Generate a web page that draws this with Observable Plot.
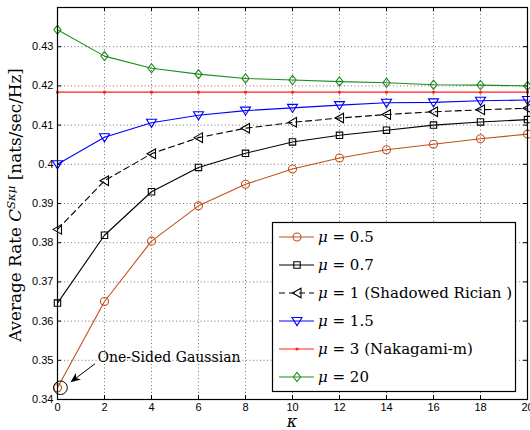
<!DOCTYPE html>
<html>
<head>
<meta charset="utf-8">
<script src="https://cdn.jsdelivr.net/npm/d3@7"></script>
<script src="https://cdn.jsdelivr.net/npm/@observablehq/plot@0.6"></script>
<style>
  html, body { margin: 0; padding: 0; background: #fff; overflow: hidden; }
  #chart { position: relative; width: 530px; height: 430px; }
</style>
</head>
<body>
<div id="chart"></div>
<script>
// ---------- data ----------
const kappa = [0, 2, 4, 6, 8, 10, 12, 14, 16, 18, 20];
const mu05 = [0.3430, 0.3650, 0.3804, 0.3894, 0.3949, 0.3988, 0.4016, 0.4037, 0.4051, 0.4065, 0.4077];
const mu07 = [0.3646, 0.3819, 0.3930, 0.3992, 0.4028, 0.4057, 0.4074, 0.4087, 0.4100, 0.4108, 0.4114];
const mu1  = [0.3834, 0.3958, 0.4027, 0.4068, 0.4092, 0.4107, 0.4118, 0.4127, 0.4134, 0.4139, 0.4143];
const mu15 = [0.4000, 0.4069, 0.4106, 0.4125, 0.4137, 0.4144, 0.4151, 0.4157, 0.4158, 0.4162, 0.4164];
const mu3  = [0.4184, 0.4184, 0.4184, 0.4184, 0.4184, 0.4184, 0.4184, 0.4184, 0.4184, 0.4184, 0.4184];
const mu20 = [0.4343, 0.4276, 0.4245, 0.4230, 0.4219, 0.4215, 0.4211, 0.4208, 0.4203, 0.4202, 0.4200];

const muValues = ["0.5", "0.7", "1", "1.5", "3", "20"];
const muNotes = ["", "", " (Shadowed Rician )", "", " (Nakagami-m)", ""];

const xTicks = [0, 2, 4, 6, 8, 10, 12, 14, 16, 18, 20];
const yTicks = [0.34, 0.35, 0.36, 0.37, 0.38, 0.39, 0.40, 0.41, 0.42, 0.43];
const yTickLabels = ["0.34", "0.35", "0.36", "0.37", "0.38", "0.39", "0.4", "0.41", "0.42", "0.43"];

const annotation = [{k: 0, v: 0.343, text: "One-Sided Gaussian"}];

// ---------- styles ----------
const sym = (f) => ({draw(ctx, size) { f(ctx, Math.sqrt(size / Math.PI) / 4); }});
const symCircle = sym((c, s) => { c.moveTo(4 * s, 0); c.arc(0, 0, 4 * s, 0, 2 * Math.PI); });
const symSquare = sym((c, s) => { c.rect(-3.2 * s, -3.2 * s, 6.4 * s, 6.4 * s); });
const symTriLeft = sym((c, s) => { c.moveTo(-4.5 * s, 0); c.lineTo(4 * s, -4.8 * s); c.lineTo(4 * s, 4.8 * s); c.closePath(); });
const symTriDown = sym((c, s) => { c.moveTo(-5 * s, -3.5 * s); c.lineTo(5 * s, -3.5 * s); c.lineTo(0, 4.6 * s); c.closePath(); });
const symDot = sym((c, s) => { c.moveTo(1 * s, 0); c.arc(0, 0, 1 * s, 0, 2 * Math.PI); });
const symDiamond = sym((c, s) => { c.moveTo(0, -4.6 * s); c.lineTo(3.6 * s, 0); c.lineTo(0, 4.6 * s); c.lineTo(-3.6 * s, 0); c.closePath(); });

const seriesValues = [mu05, mu07, mu1, mu15, mu3, mu20];
const seriesColors = ["#c0501c", "#000000", "#000000", "#0000ff", "#ff2020", "#1e8c1e"];
const seriesSymbols = [symCircle, symSquare, symTriLeft, symTriDown, symDot, symDiamond];
const seriesDash = [null, null, "6,4", null, null, null];
const seriesFill = ["none", "none", "none", "none", "#ff2020", "none"];

const SERIF = "'DejaVu Serif', 'Liberation Serif', serif";
const W = 530, H = 430, mL = 57, mR = 3, mT = 7, mB = 31;
const fW = W - mL - mR, fH = H - mT - mB;
const TICK = 4;

const series = seriesValues.map((vals, i) => kappa.map((k, j) => ({k, v: vals[j], s: i})));

const marks = [
  Plot.ruleX(xTicks.slice(1, -1), {x: d => d, stroke: "#000", strokeOpacity: 0.55, strokeDasharray: "1,2.5"}),
  Plot.ruleY(yTicks.slice(1), {y: d => d, stroke: "#000", strokeOpacity: 0.55, strokeDasharray: "1,2.5"}),
  // inward ticks on all four sides
  Plot.ruleX(xTicks, {x: d => d, stroke: "#000", insetTop: fH - TICK}),
  Plot.ruleX(xTicks, {x: d => d, stroke: "#000", insetBottom: fH - TICK}),
  Plot.ruleY(yTicks, {y: d => d, stroke: "#000", insetRight: fW - TICK}),
  Plot.ruleY(yTicks, {y: d => d, stroke: "#000", insetLeft: fW - TICK}),
  Plot.axisX(xTicks, {tickSize: 0, tickPadding: 4, label: null, tickFormat: d => String(d)}),
  Plot.axisY(yTicks, {tickSize: 0, tickPadding: 4, label: null, tickFormat: (d, i) => yTickLabels[i]})
];
series.forEach((data, i) => {
  marks.push(Plot.line(data, {x: "k", y: "v", stroke: seriesColors[i], strokeWidth: 1.1, strokeDasharray: seriesDash[i]}));
});
series.forEach((data, i) => {
  marks.push(Plot.dot(data, {x: "k", y: "v", r: 4, symbol: seriesSymbols[i], stroke: seriesColors[i], fill: seriesFill[i], strokeWidth: 1.1}));
});
marks.push(
  Plot.dot(annotation, {x: "k", y: "v", r: 6.8, dx: 3, stroke: "#000", fill: "none", strokeWidth: 1}),
  Plot.text(annotation, {x: "k", y: "v", text: "text", dx: 40, dy: -30, textAnchor: "start", fontFamily: SERIF, fontSize: 14, fill: "#000"}),
  Plot.frame({stroke: "#000", strokeWidth: 1.2})
);

const plot = Plot.plot({
  width: W, height: H,
  marginLeft: mL, marginRight: mR, marginTop: mT, marginBottom: mB,
  style: {fontFamily: "'Liberation Sans', Arial, sans-serif", fontSize: "11px", background: "#fff", color: "#000", overflow: "visible"},
  x: {domain: [0, 20]},
  y: {domain: [0.34, 0.44]},
  marks
});
document.getElementById("chart").appendChild(plot);

// ---------- extras: axis labels, arrow, legend ----------
const svg = d3.select(plot);
const xs = plot.scale("x"), ys = plot.scale("y");

// y label with superscript, sized to span the same length as the reference
{
  let fs = 15.5;
  const yl = svg.append("text")
    .attr("transform", `translate(21,205) rotate(-90)`)
    .attr("text-anchor", "middle")
    .attr("fill", "#000")
    .style("font-family", SERIF).style("font-size", fs + "px");
  yl.append("tspan").text("Average Rate ");
  yl.append("tspan").attr("font-style", "italic").text("C");
  const sup = yl.append("tspan").attr("font-style", "italic").attr("dy", -6).text("Sκμ");
  yl.append("tspan").attr("dy", 6).text(" [nats/sec/Hz]");
  sup.style("font-size", (fs * 0.7) + "px");
  const len = yl.node().getComputedTextLength();
  if (len > 0) {
    fs = Math.max(13, Math.min(18, fs * 274 / len));
    yl.style("font-size", fs + "px");
    sup.style("font-size", (fs * 0.7) + "px");
  }
}

// x label
svg.append("text")
  .attr("x", (mL + W - mR) / 2).attr("y", 427)
  .attr("text-anchor", "middle").attr("fill", "#000")
  .style("font-family", SERIF).style("font-size", "16px").style("font-style", "italic")
  .text("κ");

// arrow from annotation text to the point
{
  const px = xs.apply(annotation[0].k), py = ys.apply(annotation[0].v);
  const x1 = px + 38, y1 = py - 23.5, x2 = px + 13.5, y2 = py - 5;
  const dx = x2 - x1, dy = y2 - y1, L = Math.hypot(dx, dy), ux = dx / L, uy = dy / L;
  const hl = 10, hw = 4.2;
  const bx = x2 - ux * hl, by = y2 - uy * hl;
  const mx = x2 - ux * hl * 0.7, my = y2 - uy * hl * 0.7;
  svg.append("line").attr("x1", x1).attr("y1", y1).attr("x2", mx).attr("y2", my).attr("stroke", "#000").attr("stroke-width", 1);
  svg.append("path")
    .attr("d", `M${x2},${y2}L${bx - uy * hw},${by + ux * hw}L${mx},${my}L${bx + uy * hw},${by - ux * hw}Z`)
    .attr("fill", "#000");
}

// legend
{
  const lg = svg.append("g");
  lg.append("rect").attr("x", 272.5).attr("y", 222.5).attr("width", 243).attr("height", 169)
    .attr("fill", "#fff").attr("stroke", "#000").attr("stroke-width", 1.2);
  muValues.forEach((mv, i) => {
    const y = 237 + i * 28;
    lg.append("line").attr("x1", 279).attr("x2", 314).attr("y1", y).attr("y2", y)
      .attr("stroke", seriesColors[i]).attr("stroke-width", 1.1)
      .attr("stroke-dasharray", seriesDash[i]);
    lg.append("path").attr("transform", `translate(297,${y})`)
      .attr("d", d3.symbol(seriesSymbols[i], Math.PI * 16)())
      .attr("stroke", seriesColors[i]).attr("fill", seriesFill[i]).attr("stroke-width", 1.1);
    const t = lg.append("text").attr("x", 318).attr("y", y + 5).attr("fill", "#000")
      .attr("text-anchor", "start")
      .style("font-family", SERIF).style("font-size", "15px");
    t.append("tspan").attr("font-style", "italic").text("μ");
    t.append("tspan").text(" = " + mv + muNotes[i]);
  });
}
</script>
</body>
</html>
